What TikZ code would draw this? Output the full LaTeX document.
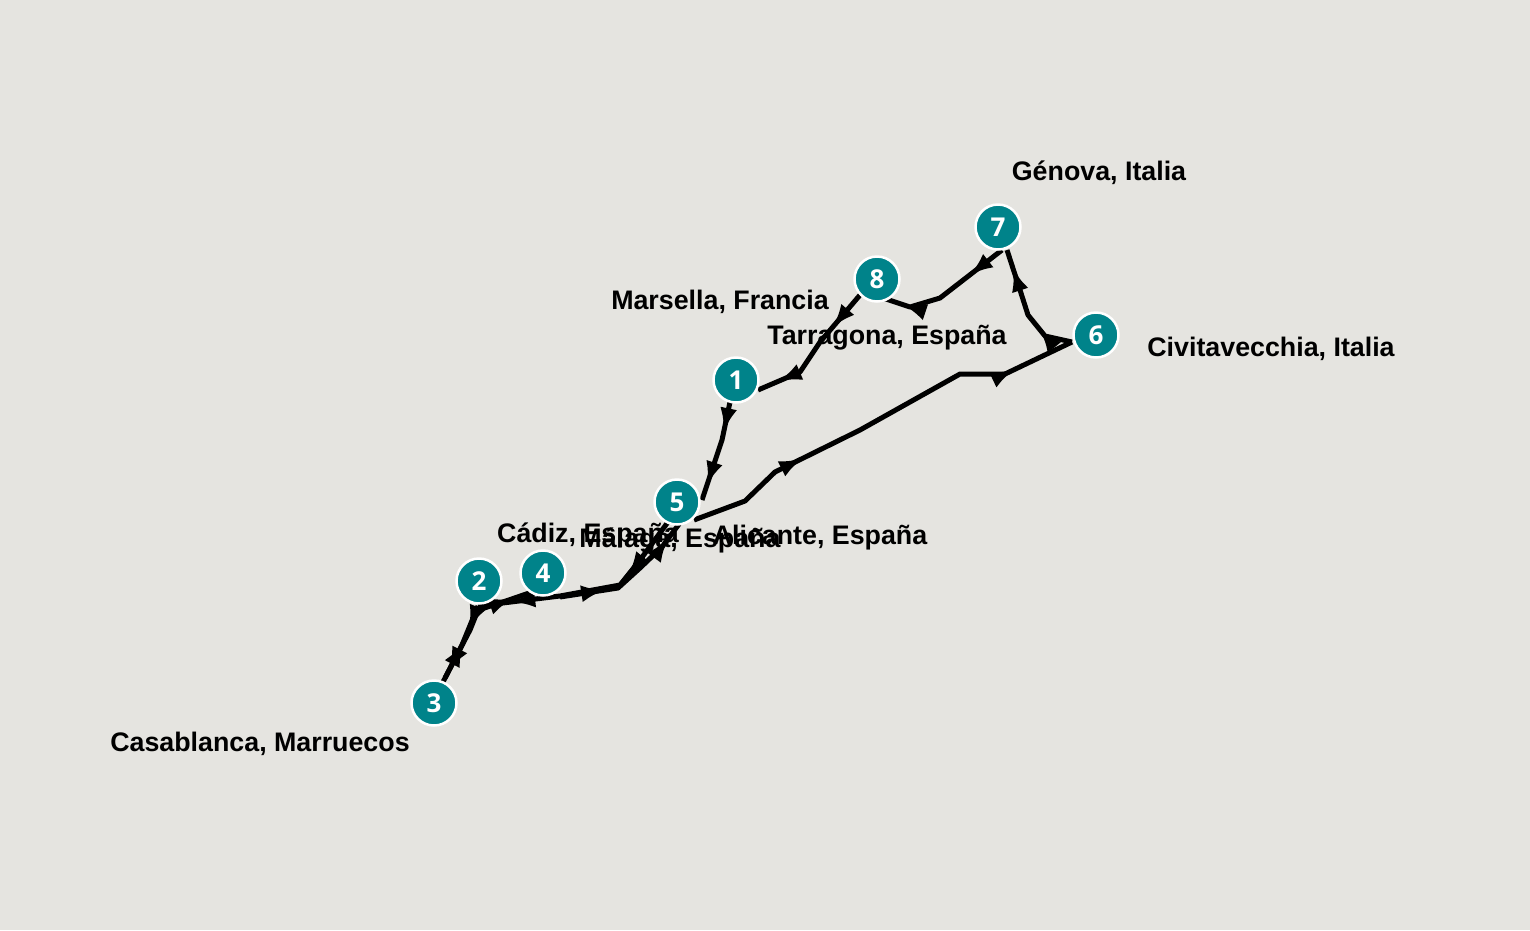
\documentclass[tikz,border=0pt]{standalone}
\usepackage{fontspec}
\setmainfont{Liberation Sans}
\newfontfamily\numfont{Open Sans}
\usetikzlibrary{decorations.markings,arrows.meta}
\definecolor{bg}{HTML}{E5E4E0}
\definecolor{teal}{HTML}{00838A}
\begin{document}
\begin{tikzpicture}[x=1pt,y=-1pt,
 stop/.style={circle,fill=teal,draw=white,line width=2.5pt,minimum size=45pt,inner sep=0pt,text=white,font=\numfont\bfseries\fontsize{26}{26}\selectfont},
 lbl/.style={font=\bfseries\fontsize{26.8}{26.8}\selectfont,anchor=base,inner sep=0pt},
 route/.style={line width=5pt,line join=round,postaction={decorate},decoration={markings,
   mark=at position 0.3 with {\arrow[line width=5pt]{Latex[length=24pt,width=17pt]}},
   mark=at position 0.85 with {\arrow[line width=5pt]{Latex[length=24pt,width=17pt]}}}}]
\fill[bg] (0,0) rectangle (1530,930);
\useasboundingbox (0,0) rectangle (1530,930);
\coordinate (c1) at (736,380);
\coordinate (c2) at (479,581);
\coordinate (c3) at (434,703);
\coordinate (c4) at (543,573);
\coordinate (c5) at (677,502);
\coordinate (c6) at (1096,335);
\coordinate (c7) at (998,227);
\coordinate (c8) at (877,279);
% routes
\draw[route] (730,402) -- (722,440) -- (712,470) -- (702,500);
\draw[route] (668,522) -- (640,560) -- (620,585) -- (560,596) -- (478,606);
\draw[route] (478,606) -- (462,645) -- (443,682);
\draw[route] (445,678) -- (470,630) -- (478,610) -- (500,603) -- (532,592);
\draw[route] (560,597) -- (618,588) -- (640,568) -- (662,547) -- (682,520);
\draw[route] (694,520) -- (745,501) -- (775,472) -- (860,430) -- (960,374) -- (1005,374) -- (1072,342);
\draw[route] (1072,342) -- (1045,336) -- (1028,315) -- (1020,290) -- (1007,250);
\draw[route] (1002,250) -- (940,298) -- (910,307) -- (883,298);
\draw[route] (860,295) -- (820,342) -- (800,372) -- (758,390);
\node[stop] (n1) at (c1) {1};
\node[stop] (n2) at (c2) {2};
\node[stop] (n3) at (c3) {3};
\node[stop] (n4) at (c4) {4};
\node[stop] (n5) at (c5) {5};
\node[stop] (n6) at (c6) {6};
\node[stop] (n7) at (c7) {7};
\node[stop] (n8) at (c8) {8};
\node[lbl] (l7) at (1099,180) {Génova, Italia};
\node[lbl] (l8) at (720,309) {Marsella, Francia};
\node[lbl] (lt) at (887,344) {Tarragona, España};
\node[lbl] (l6) at (1271,356) {Civitavecchia, Italia};
\node[lbl] (l3) at (260,751) {Casablanca, Marruecos};
\node[lbl] (lc) at (588,542) {Cádiz, España};
\node[lbl] (lm) at (680,547) {Málaga, España};
\node[lbl] (la) at (820,544) {Alicante, España};
\end{tikzpicture}
\end{document}
